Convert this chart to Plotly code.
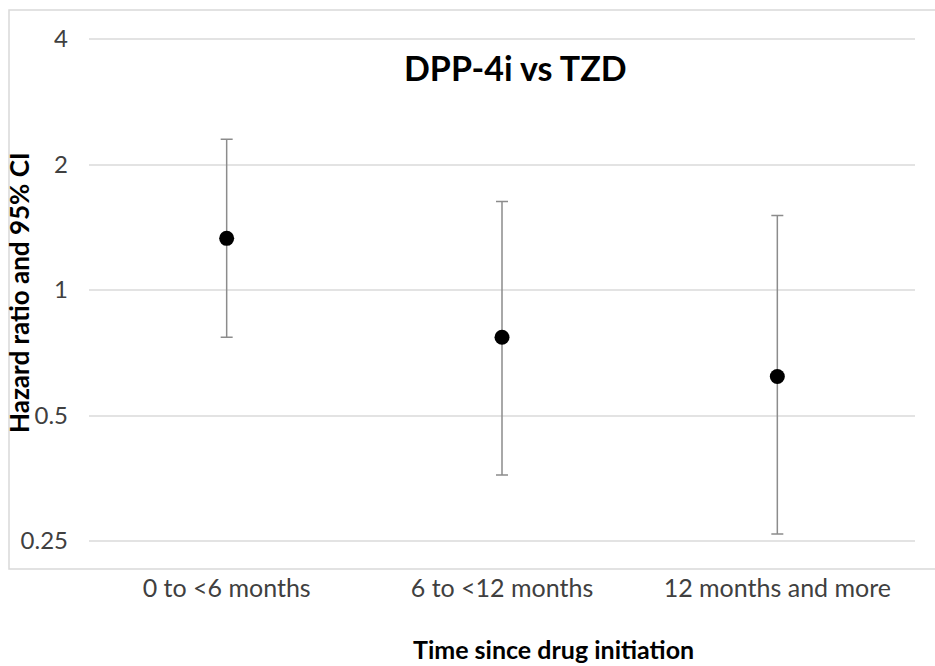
import plotly.graph_objects as go
import math

categories = ["0 to <6 months", "6 to <12 months", "12 months and more"]
hazard_ratio = [1.33, 0.77, 0.62]
ci_lower = [0.77, 0.36, 0.26]
ci_upper = [2.30, 1.63, 1.51]
y_tick_values = [0.25, 0.5, 1, 2, 4]
y_tick_labels = ["0.25", "0.5", "1", "2", "4"]

err_plus = [u - v for u, v in zip(ci_upper, hazard_ratio)]
err_minus = [v - l for v, l in zip(hazard_ratio, ci_lower)]

FONT = "Lato"
W, H = 935, 666
L, R, T, B = 89, 20, 37, 123
pw, ph = W - L - R, H - T - B


def px(x):
    return (x - L) / pw


def py(y):
    return (H - B - y) / ph


eps = 0.0048
fig = go.Figure()
fig.add_trace(go.Scatter(
    x=categories, y=hazard_ratio, mode="markers",
    marker=dict(color="black", size=15),
    error_y=dict(type="data", symmetric=False, array=err_plus, arrayminus=err_minus,
                 color="#8c8c8c", thickness=1.5, width=6),
    showlegend=False,
))

fig.update_layout(
    width=W, height=H,
    margin=dict(l=L, r=R, t=T, b=B),
    paper_bgcolor="white", plot_bgcolor="white",
    font=dict(family=FONT, color="#595959"),
    xaxis=dict(
        type="category", range=[-0.5, 2.5], showgrid=False, zeroline=False,
        showline=False, ticks="", tickfont=dict(size=25, color="#404040", family=FONT),
        ticklabelstandoff=28,
    ),
    yaxis=dict(
        type="log", range=[math.log10(0.25) - eps, math.log10(4) + eps],
        tickvals=y_tick_values, ticktext=y_tick_labels,
        showgrid=True, gridcolor="#e3e3e3", gridwidth=1.5,
        zeroline=False, showline=False, ticks="",
        tickfont=dict(size=24, color="#404040", family=FONT),
        ticklabelstandoff=20,
    ),
    shapes=[dict(type="rect", xref="paper", yref="paper",
                 x0=px(9), x1=px(950), y0=py(569), y1=py(10),
                 line=dict(color="#d9d9d9", width=1.5), layer="below")],
    annotations=[
        dict(text="<b>DPP-4i vs TZD</b>", xref="paper", yref="paper",
             x=px(515), y=py(68), showarrow=False, xanchor="center", yanchor="middle",
             font=dict(size=34, color="black", family=FONT)),
        dict(text="<b>Hazard ratio and 95% CI</b>", xref="paper", yref="paper",
             x=px(19), y=py(293), showarrow=False, textangle=-90,
             xanchor="center", yanchor="middle",
             font=dict(size=26, color="black", family=FONT)),
        dict(text="<b>Time since drug initiation</b>", xref="paper", yref="paper",
             x=px(553), y=py(649), showarrow=False, xanchor="center", yanchor="middle",
             font=dict(size=25, color="black", family=FONT)),
    ],
)

fig.write_html("out.html", config={"displayModeBar": False},
               post_script="document.body.style.margin='0';")
